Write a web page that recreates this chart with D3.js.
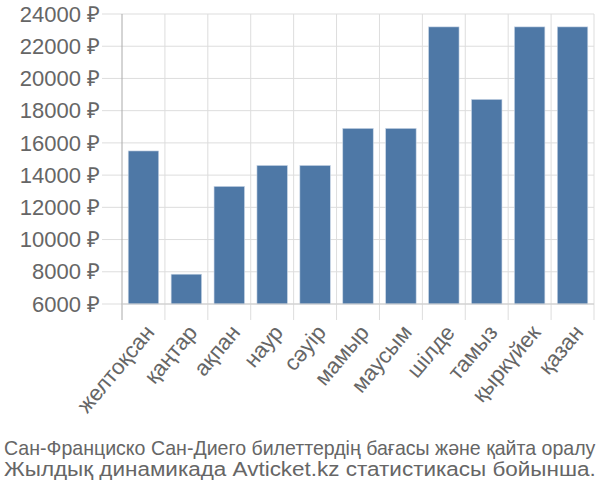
<!DOCTYPE html>
<html><head><meta charset="utf-8">
<script src="https://d3js.org/d3.v7.min.js"></script>
<style>body{margin:0;background:#fff}text{font-family:"Liberation Sans",Arial,sans-serif}</style>
</head><body>
<svg id="c" width="600" height="500"></svg>
<script>
const months = ["желтоқсан","қаңтар","ақпан","наур","сәуір","мамыр","маусым","шілде","тамыз","қыркүйек","қазан"];
const prices = [15500, 7850, 13300, 14600, 14600, 16900, 16900, 23200, 18700, 23200, 23200];
const yTicks = [6000, 8000, 10000, 12000, 14000, 16000, 18000, 20000, 22000, 24000];
const caption = ["Сан-Франциско Сан-Диего билеттердің бағасы және қайта оралу","Жылдық динамикада Avticket.kz статистикасы бойынша."];

const svg = d3.select("#c");
const L = 122, R = 594, T = 14, B = 304;
const x = d3.scaleBand().domain(months).range([L, R]).paddingInner(0.29).paddingOuter(0.145);
const y = d3.scaleLinear().domain([6000, 24000]).range([B, T]);
const step = x.step();

svg.append("g").selectAll("line").data(yTicks).join("line")
  .attr("x1", L - 20).attr("x2", R).attr("y1", d => y(d)).attr("y2", d => y(d))
  .attr("stroke", "#ddd").attr("stroke-width", 1);
const vx = d3.range(months.length + 1).map(i => L + i * step);
svg.append("g").selectAll("line").data(vx).join("line")
  .attr("x1", d => d).attr("x2", d => d).attr("y1", T).attr("y2", B + 16)
  .attr("stroke", (d, i) => i === 0 ? "#aaa" : "#ddd").attr("stroke-width", 1);

svg.append("g").selectAll("text").data(yTicks).join("text")
  .attr("x", L - 22).attr("y", d => y(d)).attr("dy", "0.35em")
  .attr("text-anchor", "end").attr("fill", "#666").attr("font-size", 22)
  .text(d => d + " ₽");

svg.append("g").selectAll("rect").data(prices).join("rect")
  .attr("x", (d, i) => x(months[i])).attr("width", x.bandwidth())
  .attr("y", d => y(d)).attr("height", d => y(6000) - y(d))
  .attr("fill", "#4e78a6").attr("stroke", "#c9d6e6").attr("stroke-width", 0.6);

svg.append("line").attr("x1", L).attr("x2", R).attr("y1", B).attr("y2", B).attr("stroke", "#ccc");

svg.append("g").selectAll("text").data(months).join("text")
  .attr("transform", d => `translate(${x(d) + x.bandwidth() / 2 + 12},${B + 29}) rotate(-50)`)
  .attr("text-anchor", "end").attr("fill", "#666").attr("font-size", 22)
  .text(d => d);

svg.append("g").selectAll("text").data(caption).join("text")
  .attr("fill", "#666").attr("font-size", 20).text(d => d)
  .each(function (d, i) {
    const w = this.getComputedTextLength();
    const s = 592 / w;
    d3.select(this).attr("transform", `translate(4,${455 + i * 21}) scale(${s},1)`);
  });
</script>
</body></html>
